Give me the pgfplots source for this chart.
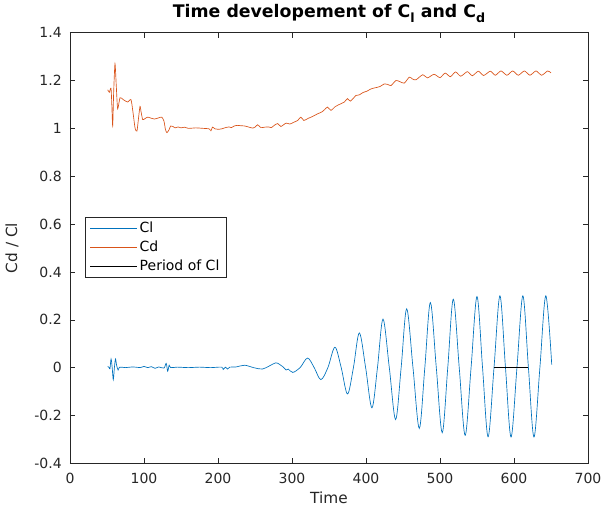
\documentclass[border=0pt]{standalone}
\usepackage{fontspec}
\setmainfont{DejaVu Sans}
\usepackage{pgfplots}
\pgfplotsset{compat=1.18}
\definecolor{clblue}{rgb}{0,0.447,0.741}
\definecolor{cdorange}{rgb}{0.85,0.325,0.098}
\definecolor{axgray}{rgb}{0.15,0.15,0.15}
\begin{document}
\begin{tikzpicture}
\useasboundingbox (-52.5pt,-34.3pt) rectangle (398.25pt,347.5pt);
\begin{axis}[
  at={(0pt,0pt)}, anchor=south west,
  scale only axis, width=388.5pt, height=323pt,
  xmin=0, xmax=700, ymin=-0.4, ymax=1.4,
  xtick={0,100,200,300,400,500,600,700},
  ytick={-0.4,-0.2,0,0.2,0.4,0.6,0.8,1,1.2,1.4},
  tick align=inside, major tick length=3.75pt,
  tick style={axgray, line width=0.4pt},
  axis line style={axgray, line width=0.4pt},
  ticklabel style={font=\fontsize{10.5}{12}\selectfont, text=axgray},
  xticklabel style={yshift=-3.5pt},
  yticklabel style={xshift=-2.7pt},
  /pgf/number format/assume math mode=true,
  xlabel={Time}, ylabel={Cd / Cl},
  label style={font=\fontsize{11.5}{13}\selectfont, text=axgray},
  xlabel style={at={(axis description cs:0.5,-0.0944)}, anchor=base},
  ylabel style={at={(axis description cs:-0.112,0.5)}, anchor=center},
  every axis title shift=0pt,
  title={Time developement of C\raisebox{-0.55ex}{\fontsize{9.5}{10}\selectfont l} and C\raisebox{-0.55ex}{\fontsize{9.5}{10}\selectfont d}},
  title style={at={(axis description cs:0.5,1.0359)}, anchor=base, font=\bfseries\fontsize{13}{15}\selectfont},
  legend style={at={(axis description cs:0.029,0.572)}, anchor=north west,
    draw=axgray, line width=0.4pt, fill=white,
    font=\fontsize{10.5}{12}\selectfont, inner ysep=2pt, inner xsep=3.5pt, row sep=1pt,
    nodes={inner sep=1.8pt}},
  legend cell align=left,
  legend image code/.code={\draw[#1] (0pt,0pt) -- (35pt,0pt);},
]
% Cl
\addplot[clblue, line width=0.5pt, smooth, tension=0.55] coordinates {
(51,0.005)(53,0.0)(54,-0.005)(55.5,0.036)(57,0.0)(58.5,-0.05)(60,0.0)(61.5,0.036)(63,0.01)(65,-0.01)(67,0.002)
(75,0.0)(85,0.003)(95,0.0)(100,0.005)(105,0.0)(110,0.004)(115,-0.003)(120,0.003)(127,-0.002)
(130,0.018)(132,-0.015)(134,0.01)(136,0)(145,0.002)(160,0)(175,0.002)(190,0)(205,0.002)
(207,-0.008)(210,0.002)(213,-0.006)(216,0.002)(225,0.003)(236,0.01)(248,0.0)(260,-0.006)
(270,0.008)(278,0.02)(283,0.014)(289,0.0)(292,-0.01)(295,-0.006)(301,-0.02)
(311,0.0)(321,0.04)(330,0)(339,-0.05)(348.5,0)(358,0.085)(366.5,0)(375,-0.11)(383,0)
(391,0.145)(399.5,0)(408,-0.168)(415.5,0)(423,0.203)(431.5,0)(440,-0.217)(447.5,0)
(455,0.246)(463.5,0)(472,-0.254)(479.5,0)(487,0.272)(495,0)(503,-0.272)(510.5,0)
(518,0.286)(526,0)(534,-0.283)(542,0)(550,0.297)(557.5,0)(565,-0.289)(573,0)
(581,0.30)(588.5,0)(596,-0.29)(604,0)(612,0.30)(619.5,0)(627,-0.29)(635,0)(643,0.30)(651,0.0125)
};
\addlegendentry{Cl}
% Cd
\addplot[cdorange, line width=0.5pt, smooth, tension=0.4] coordinates {
(51,1.161)(53.2,1.151)(55.4,1.168)(56.5,1.10)(57.7,1.010)(59,1.15)(60.8,1.270)(62.5,1.18)(64.4,1.082)
(67.6,1.128)(72,1.12)(78,1.11)(82.4,1.12)(85,1.07)(88,1.0)(90.5,0.989)(92.5,1.04)(94.6,1.092)
(96,1.07)(98.2,1.037)(101,1.04)(105,1.047)(110,1.042)(114,1.039)(119,1.043)(124,1.047)(127,1.03)
(129,0.995)(131,0.982)(134,0.995)(136,1.01)(139,1.008)(142,1.002)(146,1.006)(150,1.002)(155,1.005)
(160,1.0)(170,1.002)(180,1.0)(188,0.998)(190.5,0.99)(192.5,1.005)(196,0.998)(200,0.996)(205,0.998)
(210,1.003)(215,1.006)(218,1.003)(222,1.01)(226.6,1.0125)(231,1.011)(236,1.01)(242,1.005)(247,1.001)
(250,1.005)(253.6,1.015)(258,1.003)(263,1.005)(268,1.006)(272,1.003)(276,1.0125)(280.6,1.02)(285,1.008)
(292,1.022)(297,1.018)(302,1.025)(307.7,1.033)(312,1.047)(316,1.033)(322,1.042)(328,1.05)(334.7,1.061)
(340,1.068)(344,1.078)(348,1.089)(352.7,1.075)(358,1.09)(364,1.1)(370.7,1.11)(375,1.124)(379,1.114)
(386.5,1.1375)(391,1.14)(396,1.15)(401,1.155)(406.8,1.165)(413,1.17)(419,1.175)(424.8,1.186)(429,1.184)
(433.8,1.179)(440.5,1.2)(446,1.195)(451.8,1.189)(458.5,1.214)(463,1.206)(467.6,1.203)(476.6,1.224)
(483,1.211)(492,1.226)(500,1.212)(507,1.231)(514,1.216)(521,1.236)(528,1.218)(537,1.237)(543.7,1.22)
(551.8,1.239)(559,1.221)(568,1.239)(574.8,1.222)(582.4,1.240)(590.5,1.222)(598.2,1.240)(605.8,1.222)
(614,1.240)(621.6,1.222)(629.7,1.240)(637.4,1.222)(645.5,1.240)(650,1.232)
};
\addlegendentry{Cd}
% Period of Cl
\addplot[black, line width=0.5pt] coordinates {(573,0)(619,0)};
\addlegendentry{Period of Cl}
\end{axis}
\end{tikzpicture}
\end{document}
